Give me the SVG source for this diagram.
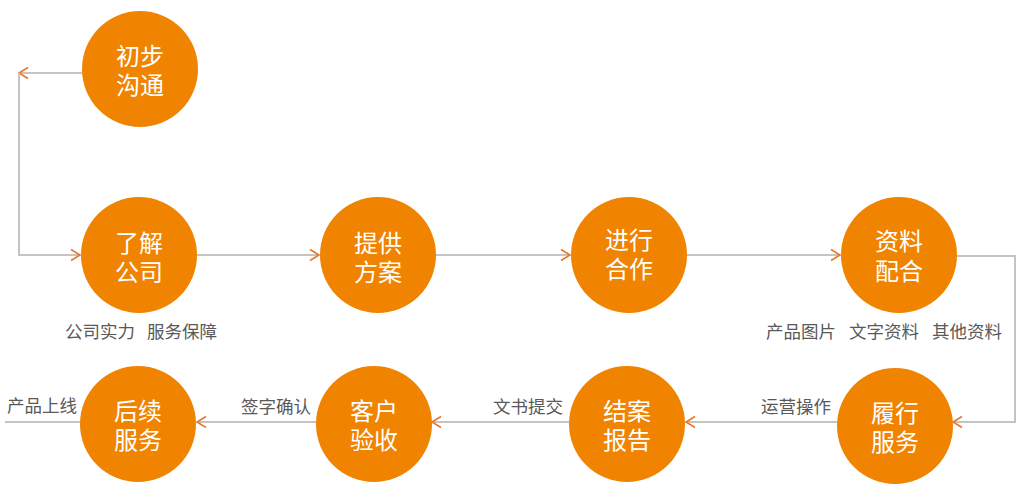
<svg xmlns="http://www.w3.org/2000/svg" width="1031" height="498" viewBox="0 0 1031 498">
<style>
.node circle{fill:#F08300}
.node text{fill:#fff;font-family:"Noto Sans CJK SC","Microsoft YaHei",sans-serif;font-size:24px;text-anchor:middle}
.conn path{fill:none;stroke:#C4C4C4;stroke-width:2}
.lbl{fill:#595959;font-family:"Noto Sans CJK SC",sans-serif;font-size:17.5px}
</style>
<defs>
<marker id="arr" markerUnits="userSpaceOnUse" markerWidth="14" markerHeight="14" refX="11" refY="7" orient="auto">
<path d="M2,1.5 L11,7 L2,12.5" fill="none" stroke="#E8772E" stroke-width="1.6"/>
</marker>
</defs>
<rect width="1031" height="498" fill="#fff"/>
<g class="conn">
<path d="M82,73 H19" marker-end="url(#arr)"/>
<path d="M19,73 V255 H80" marker-end="url(#arr)"/>
<path d="M197,255 H319" marker-end="url(#arr)"/>
<path d="M436,255 H570" marker-end="url(#arr)"/>
<path d="M687,255 H840" marker-end="url(#arr)"/>
<path d="M957,256 H1015 V422 H953" marker-end="url(#arr)"/>
<path d="M837,422 H686" marker-end="url(#arr)"/>
<path d="M569,422 H432" marker-end="url(#arr)"/>
<path d="M316,422 H197" marker-end="url(#arr)"/>
<path d="M80,422 H5"/>
</g>
<g id="n1" class="node"><circle cx="140" cy="69" r="58"/><text x="140" y="65">初步<tspan x="140" dy="29">沟通</tspan></text></g>
<g id="n2" class="node"><circle cx="139" cy="255" r="58"/><text x="139" y="252">了解<tspan x="139" dy="29">公司</tspan></text></g>
<g id="n3" class="node"><circle cx="378" cy="255" r="58"/><text x="378" y="252">提供<tspan x="378" dy="29">方案</tspan></text></g>
<g id="n4" class="node"><circle cx="629" cy="255" r="58"/><text x="629" y="249">进行<tspan x="629" dy="29">合作</tspan></text></g>
<g id="n5" class="node"><circle cx="899" cy="255" r="58"/><text x="899" y="250">资料<tspan x="899" dy="30">配合</tspan></text></g>
<g id="n6" class="node"><circle cx="895" cy="426" r="58"/><text x="895" y="422">履行<tspan x="895" dy="29">服务</tspan></text></g>
<g id="n7" class="node"><circle cx="627" cy="424" r="58"/><text x="627" y="420">结案<tspan x="627" dy="29">报告</tspan></text></g>
<g id="n8" class="node"><circle cx="374" cy="424" r="58"/><text x="374" y="420">客户<tspan x="374" dy="29">验收</tspan></text></g>
<g id="n9" class="node"><circle cx="138" cy="424" r="58"/><text x="138" y="420">后续<tspan x="138" dy="29">服务</tspan></text></g>
<g id="labels">
<text class="lbl" x="65" y="338">公司实力</text>
<text class="lbl" x="147" y="338">服务保障</text>
<text class="lbl" x="766" y="338">产品图片</text>
<text class="lbl" x="849" y="338">文字资料</text>
<text class="lbl" x="932" y="338">其他资料</text>
<text class="lbl" x="761" y="413">运营操作</text>
<text class="lbl" x="493" y="413">文书提交</text>
<text class="lbl" x="241" y="413">签字确认</text>
<text class="lbl" x="7" y="412">产品上线</text>
</g>
</svg>
